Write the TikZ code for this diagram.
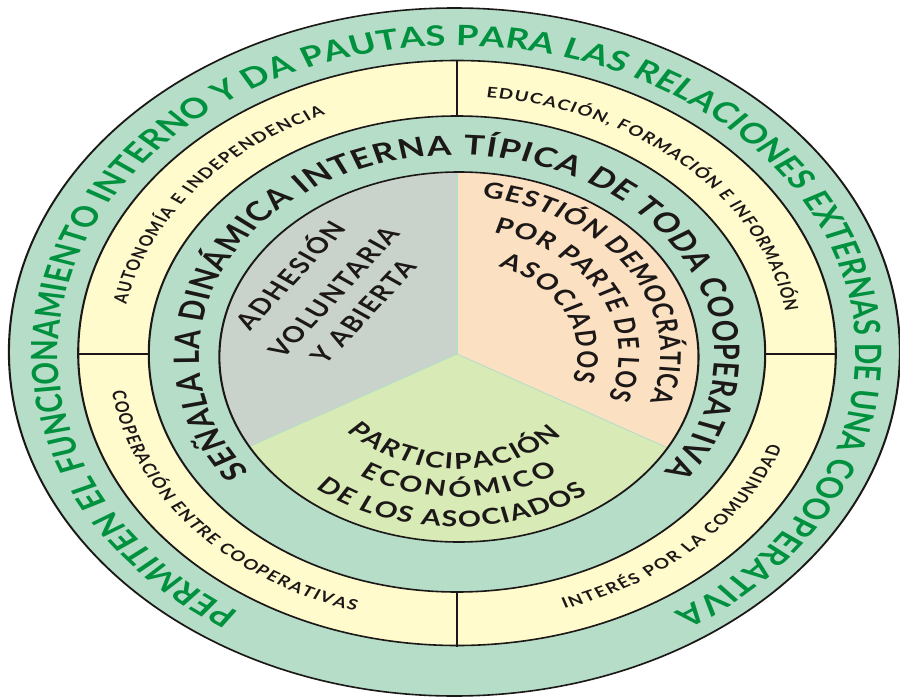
\documentclass[tikz,border=0pt]{standalone}
\usepackage{fontspec}
\setmainfont{Lato}
\usetikzlibrary{decorations.text}

\definecolor{mint}{RGB}{181,221,200}
\definecolor{cream}{RGB}{255,251,204}
\definecolor{sage}{RGB}{201,211,203}
\definecolor{peach}{RGB}{251,224,194}
\definecolor{lime}{RGB}{216,234,181}
\definecolor{leaf}{RGB}{0,145,63}
\definecolor{ink}{RGB}{28,24,24}

\newcommand\outerfont{\fontsize{28}{34}\selectfont\bfseries}
\newcommand\middlefont{\fontsize{27}{32}\selectfont\bfseries}
\newcommand\smallfont{\fontsize{14.5}{18}\selectfont\bfseries}
\newcommand\sectorfont{\fontsize{22}{26}\selectfont\bfseries}

\begin{document}
\begin{tikzpicture}[x=1pt,y=1pt,
    ring/.style={draw=ink,line width=1.6pt},
    arctext/.style={decorate,decoration={text along path,text align={fit to path},text color=ink,#1}},
    sectortext/.style={inner sep=0pt,text=ink,font=\sectorfont\addfontfeatures{LetterSpace=8},rotate=54}]
\useasboundingbox (-457,-343) rectangle (443,354);
\begin{scope}[transform canvas={xscale=1.295}]
  % rings
  \filldraw[ring,fill=mint] (-2,2) circle[radius=344];
  \filldraw[ring,fill=cream] (0,1) circle[radius=292.5];
  \foreach \a in {0,90,180,270}
    \draw[ink,line width=1.2pt] (\a:238) -- (\a:292.5);
  \filldraw[ring,fill=mint] (0,0) circle[radius=238];
  % three sectors
  \begin{scope}
    \clip (1.5,-3) circle[radius=185];
    \fill[sage] (0,0) -- (90:300) arc[start angle=90,end angle=210,radius=300] -- cycle;
    \fill[peach] (0,0) -- (-30:300) arc[start angle=-30,end angle=90,radius=300] -- cycle;
    \fill[lime] (0,0) -- (210:300) arc[start angle=210,end angle=330,radius=300] -- cycle;
    \foreach \a in {90,210,330}
      \draw[mint,line width=0.8pt] (0,0) -- (\a:300);
  \end{scope}
  \draw[ring] (1.5,-3) circle[radius=185];

  % outer ring
  \path[arctext={text color=leaf,text={|\outerfont|PERMITEN EL FUNCIONAMIENTO INTERNO Y DA PAUTAS PARA LAS RELACIONES EXTERNAS DE UNA COOPERATIVA}}]
    (237:308) arc[start angle=237,end angle=-57,radius=308];
  % middle ring
  \path[arctext={text={|\middlefont|SEÑALA LA DINÁMICA INTERNA TÍPICA DE TODA COOPERATIVA}}]
    (216.5:199) arc[start angle=216.5,end angle=-36.5,radius=199];

  % yellow ring
  \path[arctext={text={|\smallfont|AUTONOMÍA E INDEPENDENCIA}}]
    (169:260) arc[start angle=169,end angle=113,radius=260];
  \path[arctext={text={|\smallfont|EDUCACIÓN, FORMACIÓN E INFORMACIÓN}}]
    (85:257) arc[start angle=85,end angle=9.5,radius=257];
  \path[arctext={text={|\smallfont|COOPERACIÓN ENTRE COOPERATIVAS}}]
    (188:269) arc[start angle=188,end angle=253,radius=269];
  \path[arctext={text={|\smallfont|INTERÉS POR LA COMUNIDAD}}]
    (288:268) arc[start angle=288,end angle=339.5,radius=268];

  % gray sector
  \node[sectortext] (adhesion) at (-130,80) {ADHESIÓN};
  \node[sectortext] (voluntaria) at (-95,62) {VOLUNTARIA};
  \node[sectortext] (abierta) at (-72,42) {Y ABIERTA};

  % peach sector
  \path[arctext={text={|\sectorfont|GESTIÓN DEMOCRÁTICA}}]
    (83:157) arc[start angle=83,end angle=-18,radius=157];
  \path[arctext={text={|\sectorfont|POR PARTE DE LOS}}]
    (77:125) arc[start angle=77,end angle=-21,radius=125];
  \path[arctext={text={|\sectorfont|ASOCIADOS}}]
    (70:93) arc[start angle=70,end angle=-17,radius=93];

  % green sector
  \path[arctext={text={|\sectorfont|PARTICIPACIÓN}}]
    (222:115) arc[start angle=222,end angle=315,radius=115];
  \path[arctext={text={|\sectorfont|ECONÓMICO}}]
    (238:143) arc[start angle=238,end angle=303,radius=143];
  \path[arctext={text={|\sectorfont|DE LOS ASOCIADOS}}]
    (231:173) arc[start angle=231,end angle=306,radius=173];
\end{scope}
\end{tikzpicture}
\end{document}
